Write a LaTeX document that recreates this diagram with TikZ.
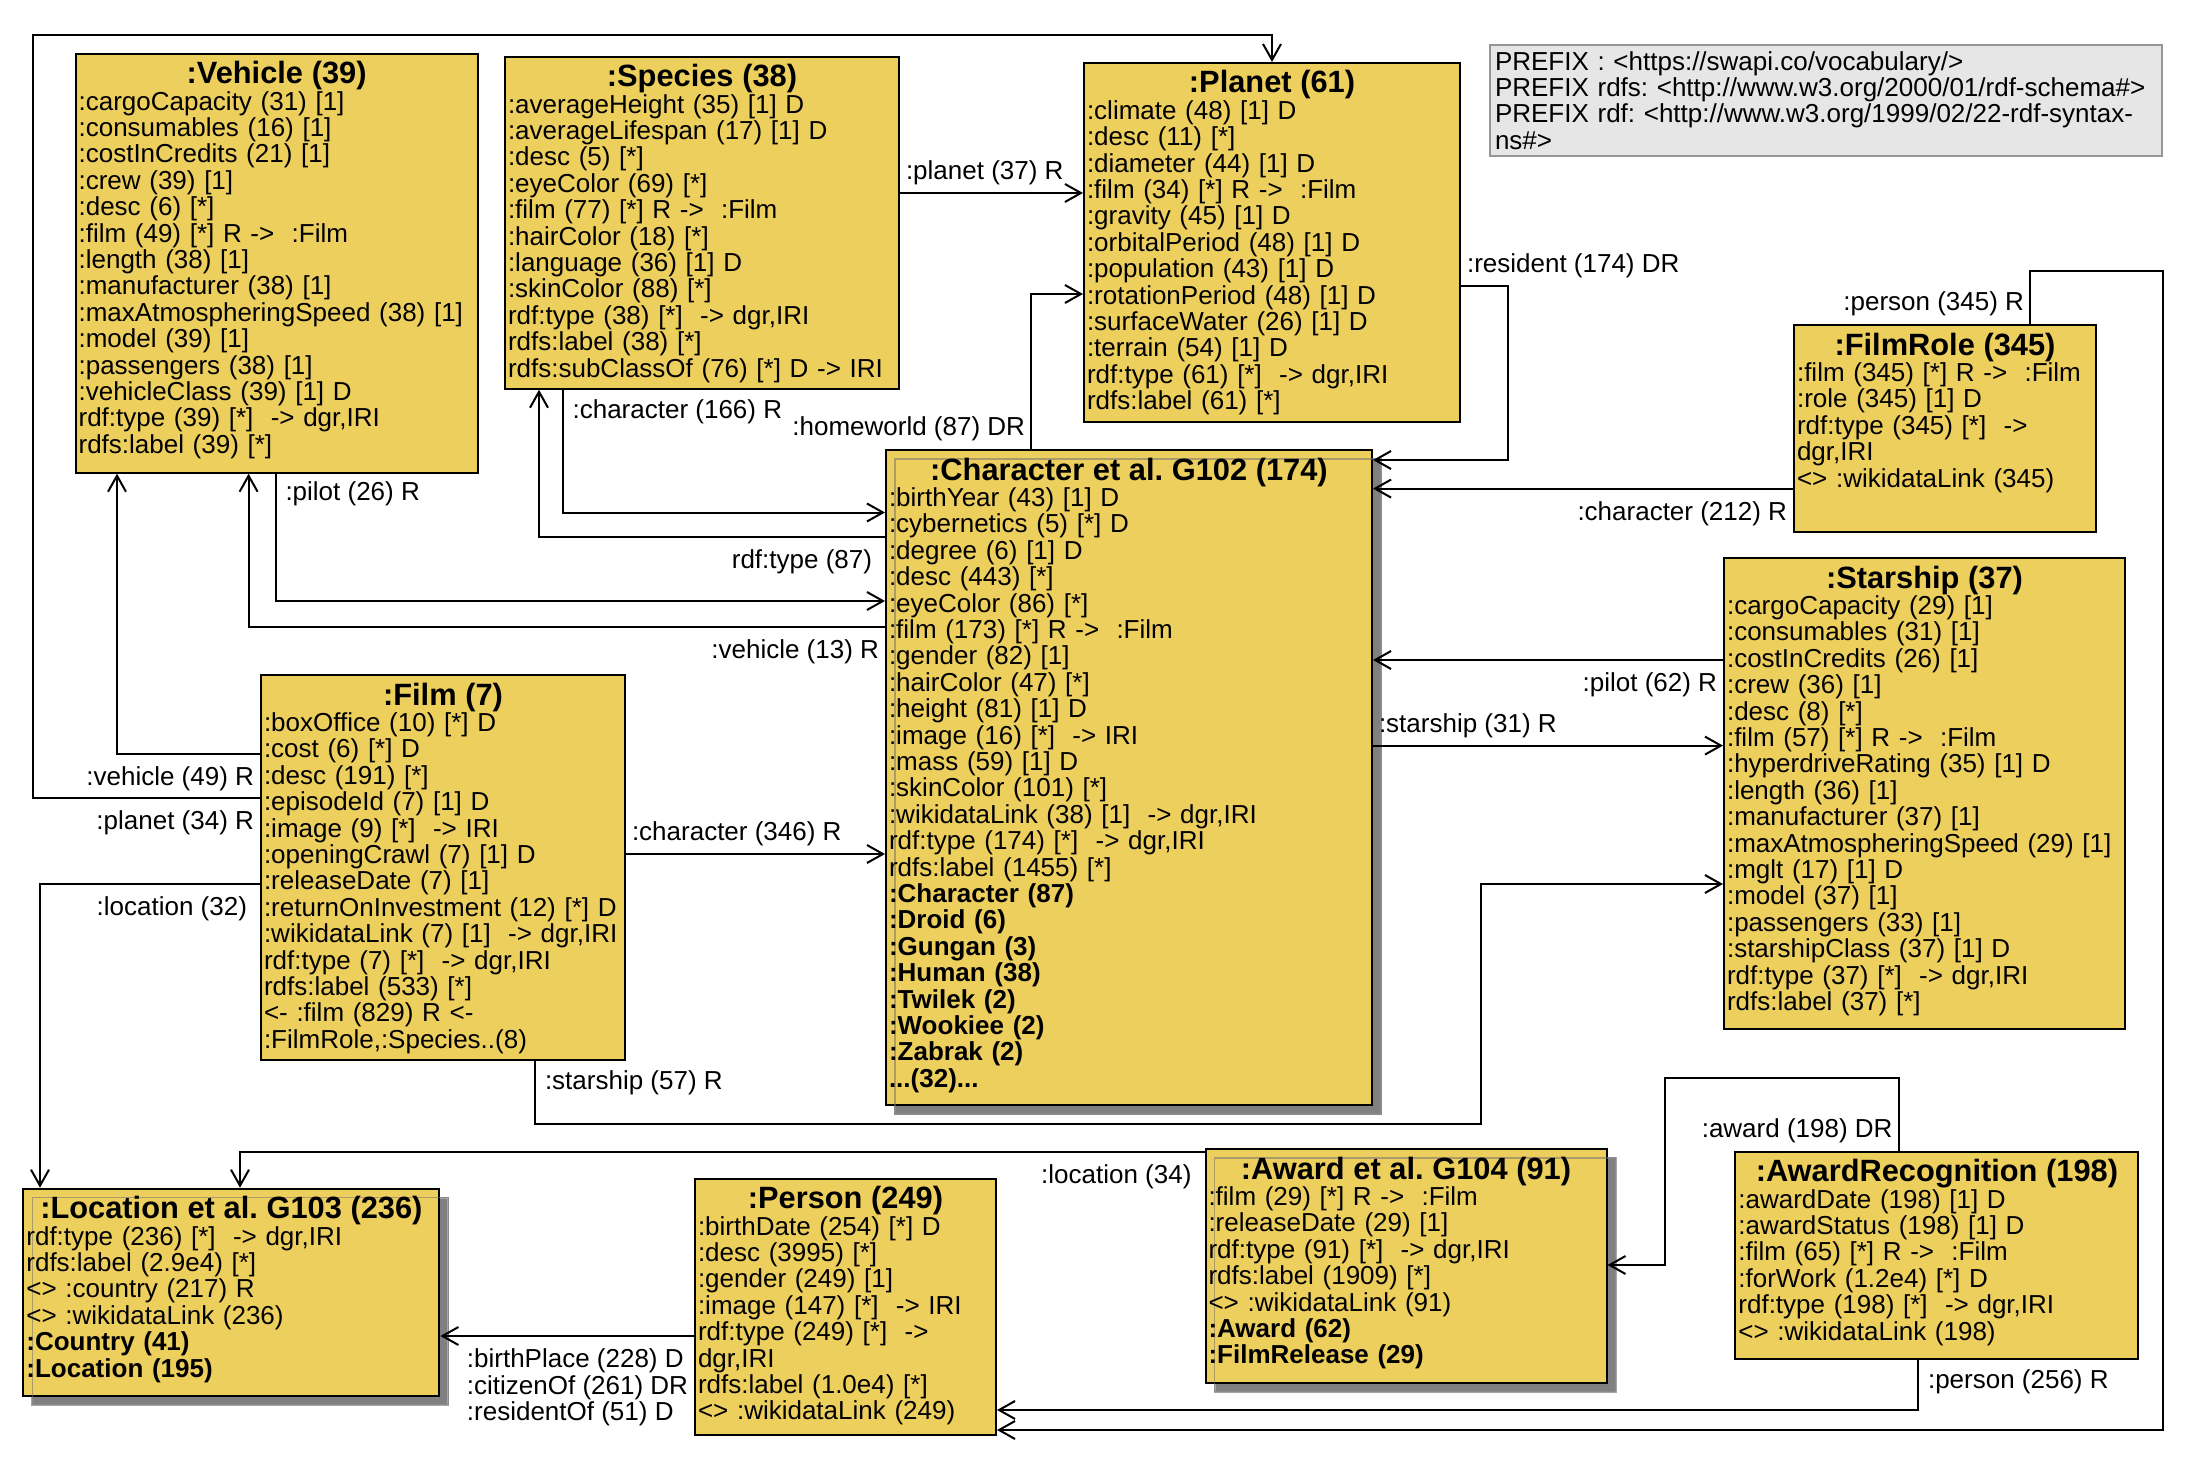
\documentclass[tikz,border=0pt]{standalone}
\usepackage{fontspec}
\setmainfont{Liberation Sans}
\usepackage{tikz}
\usetikzlibrary{arrows.meta}
\definecolor{clsyellow}{RGB}{237,207,94}
\definecolor{shadowgray}{RGB}{128,128,128}
\definecolor{prefixgray}{RGB}{230,230,230}
\definecolor{prefixline}{RGB}{150,150,150}
\newcommand{\clshead}[1]{\hfill{\fontsize{15.4}{15.4}\selectfont\bfseries #1}\hfill\null\\}
\frenchspacing

\begin{document}
\begin{tikzpicture}[x=0.5pt, y=-0.5pt,
		>={Straight Barb[length=8pt,width=9pt]}, %Pfeilspitzen
		cls/.style 2 args={draw, line width=1pt, fill=clsyellow, anchor=north west,
			inner xsep=1.5pt, inner ysep=2pt, align=left,
			text width=#1*0.5pt-3pt, text height=13pt, text depth=#2*0.5pt-17pt,
			font=\fontsize{13}{13.2}\selectfont},
		grp/.style={preaction={fill=shadowgray, draw=shadowgray!70, transform canvas={shift={(4.5pt,-4.5pt)}}},
			postaction={draw=black!55, opacity=0.55, line width=0.7pt, transform canvas={shift={(4.5pt,-4.5pt)}}}},
		link/.style={->, line width=1pt},
		lbl/.style={font=\fontsize{13}{13.2}\selectfont, inner xsep=2.5pt, inner ysep=6pt},
		lblup/.style={lbl, inner ysep=3.5pt}]
		\path[use as bounding box, fill=white] (0,0) rectangle (2204,1466);
		%Praefixe
		\node[draw=prefixline, fill=prefixgray, line width=1pt, anchor=north west, align=left,
			text width=331pt, minimum height=55.3pt, inner xsep=2.5pt,
			font=\fontsize{13}{13.1}\selectfont] (pfx) at (1489,44)
			{PREFIX : <https://swapi.co/vocabulary/>\\PREFIX rdfs: <http://www.w3.org/2000/01/rdf-schema\#>\\PREFIX rdf: <http://www.w3.org/1999/02/22-rdf-syntax-\\ns\#>};
		%Klassen
		\node[cls={402}{419}] (veh) at (74.6,52.7) {\clshead{:Vehicle (39)}
			:cargoCapacity (31) [1]\\
			:consumables (16) [1]\\
			:costInCredits (21) [1]\\
			:crew (39) [1]\\
			:desc (6) [*]\\
			:film (49) [*] R ->~~:Film\\
			:length (38) [1]\\
			:manufacturer (38) [1]\\
			:maxAtmospheringSpeed (38) [1]\\
			:model (39) [1]\\
			:passengers (38) [1]\\
			:vehicleClass (39) [1] D\\
			rdf:type (39) [*]~~-> dgr,IRI\\
			rdfs:label (39) [*]};
		\node[cls={394}{332}] (spc) at (504,55.7) {\clshead{:Species (38)}
			:averageHeight (35) [1] D\\
			:averageLifespan (17) [1] D\\
			:desc (5) [*]\\
			:eyeColor (69) [*]\\
			:film (77) [*] R ->~~:Film\\
			:hairColor (18) [*]\\
			:language (36) [1] D\\
			:skinColor (88) [*]\\
			rdf:type (38) [*]~~-> dgr,IRI\\
			rdfs:label (38) [*]\\
			rdfs:subClassOf (76) [*] D -> IRI};
		\node[cls={376}{359}] (plt) at (1083,62) {\clshead{:Planet (61)}
			:climate (48) [1] D\\
			:desc (11) [*]\\
			:diameter (44) [1] D\\
			:film (34) [*] R ->~~:Film\\
			:gravity (45) [1] D\\
			:orbitalPeriod (48) [1] D\\
			:population (43) [1] D\\
			:rotationPeriod (48) [1] D\\
			:surfaceWater (26) [1] D\\
			:terrain (54) [1] D\\
			rdf:type (61) [*]~~-> dgr,IRI\\
			rdfs:label (61) [*]};
		\node[cls={486}{655}, grp] (chr) at (885,449) {\clshead{:Character et al. G102 (174)}
			:birthYear (43) [1] D\\
			:cybernetics (5) [*] D\\
			:degree (6) [1] D\\
			:desc (443) [*]\\
			:eyeColor (86) [*]\\
			:film (173) [*] R ->~~:Film\\
			:gender (82) [1]\\
			:hairColor (47) [*]\\
			:height (81) [1] D\\
			:image (16) [*]~~-> IRI\\
			:mass (59) [1] D\\
			:skinColor (101) [*]\\
			:wikidataLink (38) [1]~~-> dgr,IRI\\
			rdf:type (174) [*]~~-> dgr,IRI\\
			rdfs:label (1455) [*]\\
			\textbf{:Character (87)}\\
			\textbf{:Droid (6)}\\
			\textbf{:Gungan (3)}\\
			\textbf{:Human (38)}\\
			\textbf{:Twilek (2)}\\
			\textbf{:Wookiee (2)}\\
			\textbf{:Zabrak (2)}\\
			\textbf{...(32)...}};
		\node[cls={302}{207}] (frl) at (1793,324) {\clshead{:FilmRole (345)}
			:film (345) [*] R ->~~:Film\\
			:role (345) [1] D\\
			rdf:type (345) [*]~~->\\
			dgr,IRI\\
			<> :wikidataLink (345)};
		\node[cls={401}{471}] (star) at (1723,557) {\clshead{:Starship (37)}
			:cargoCapacity (29) [1]\\
			:consumables (31) [1]\\
			:costInCredits (26) [1]\\
			:crew (36) [1]\\
			:desc (8) [*]\\
			:film (57) [*] R ->~~:Film\\
			:hyperdriveRating (35) [1] D\\
			:length (36) [1]\\
			:manufacturer (37) [1]\\
			:maxAtmospheringSpeed (29) [1]\\
			:mglt (17) [1] D\\
			:model (37) [1]\\
			:passengers (33) [1]\\
			:starshipClass (37) [1] D\\
			rdf:type (37) [*]~~-> dgr,IRI\\
			rdfs:label (37) [*]};
		\node[cls={364}{384.5}] (film) at (260,674) {\clshead{:Film (7)}
			:boxOffice (10) [*] D\\
			:cost (6) [*] D\\
			:desc (191) [*]\\
			:episodeId (7) [1] D\\
			:image (9) [*]~~-> IRI\\
			:openingCrawl (7) [1] D\\
			:releaseDate (7) [1]\\
			:returnOnInvestment (12) [*] D\\
			:wikidataLink (7) [1]~~-> dgr,IRI\\
			rdf:type (7) [*]~~-> dgr,IRI\\
			rdfs:label (533) [*]\\
			<- :film (829) R <-\\
			:FilmRole,:Species..(8)};
		\node[cls={416}{207}, grp] (loc) at (22.4,1187.7) {\clshead{:Location et al. G103 (236)}
			rdf:type (236) [*]~~-> dgr,IRI\\
			rdfs:label (2.9e4) [*]\\
			<> :country (217) R\\
			<> :wikidataLink (236)\\
			\textbf{:Country (41)}\\
			\textbf{:Location (195)}};
		\node[cls={301}{256.6}] (per) at (694,1177.7) {\clshead{:Person (249)}
			:birthDate (254) [*] D\\
			:desc (3995) [*]\\
			:gender (249) [1]\\
			:image (147) [*]~~-> IRI\\
			rdf:type (249) [*]~~->\\
			dgr,IRI\\
			rdfs:label (1.0e4) [*]\\
			<> :wikidataLink (249)};
		\node[cls={401}{233.7}, grp] (awd) at (1204.5,1148) {\clshead{:Award et al. G104 (91)}
			:film (29) [*] R ->~~:Film\\
			:releaseDate (29) [1]\\
			rdf:type (91) [*]~~-> dgr,IRI\\
			rdfs:label (1909) [*]\\
			<> :wikidataLink (91)\\
			\textbf{:Award (62)}\\
			\textbf{:FilmRelease (29)}};
		\node[cls={403}{207}] (arc) at (1734.4,1150.7) {\clshead{:AwardRecognition (198)}
			:awardDate (198) [1] D\\
			:awardStatus (198) [1] D\\
			:film (65) [*] R ->~~:Film\\
			:forWork (1.2e4) [*] D\\
			rdf:type (198) [*]~~-> dgr,IRI\\
			<> :wikidataLink (198)};
		%Kanten von :Film
		\draw[link] (film.west |- 0,754) node[lbl, below left] (lVehA) {:vehicle (49) R} -| (veh.south -| 117,0);
		\draw[link] (film.west |- 0,798) node[lbl, below left] (lPlnA) {:planet (34) R} -- (33,798) |- (1272,34.7) -- (plt.north -| 1272,0);
		\draw[link] (film.west |- 0,884) node[lbl, below left, xshift=-3.5pt] (lLocA) {:location (32)} -| (loc.north -| 40,0);
		\draw[link] (film.east |- 0,854) node[lblup, above right] (lChrA) {:character (346) R} -- (chr.west |- 0,854);
		\draw[link] (film.south -| 535,0) node[lbl, below right, xshift=2pt, yshift=1.5pt] (lStsA) {:starship (57) R} |- (1481,1124) |- (star.west |- 0,884);
		%Kanten von :Vehicle, :Species, :Planet
		\draw[link] (veh.south -| 275.5,0) node[lbl, below right, xshift=2pt, yshift=2.5pt] (lPilA) {:pilot (26) R} |- (chr.west |- 0,601);
		\draw[link] (spc.south -| 562.6,0) node[lbl, below right, xshift=2pt, yshift=1.5pt] (lChrB) {:character (166) R} |- (chr.west |- 0,512.5);
		\draw[link] (spc.east |- 0,193) node[lblup, above right] (lPlnB) {:planet (37) R} -- (plt.west |- 0,193);
		\draw[link] (plt.east |- 0,286) node[lblup, above right] (lRes) {:resident (174) DR} -| (1508,460) -- (chr.east |- 0,460);
		%Kanten von :Character
		\draw[link] (chr.west |- 0,627) node[lbl, below left] (lVehB) {:vehicle (13) R} -| (veh.south -| 248.6,0);
		\draw[link] (chr.west |- 0,537) node[lbl, below left, xshift=-3.5pt] (lType) {rdf:type (87)} -| (spc.south -| 539,0);
		\draw[link] (chr.north -| 1031,0) node[lblup, above left] (lHome) {:homeworld (87) DR} |- (plt.west |- 0,294);
		\draw[link] (chr.east |- 0,745.6) node[lblup, above right] (lStsB) {:starship (31) R} -- (star.west |- 0,745.6);
		%Kanten von :FilmRole, :Starship
		\draw[link] (frl.west |- 0,488.6) node[lbl, below left] (lChrC) {:character (212) R} -- (chr.east |- 0,488.6);
		\draw[link] (frl.north -| 2030,0) node[lblup, above left] (lPerA) {:person (345) R} |- (2163,270.7) |- (per.east |- 0,1430);
		\draw[link] (star.west |- 0,660) node[lbl, below left] (lPilB) {:pilot (62) R} -- (chr.east |- 0,660);
		%Kanten unten
		\draw[link] (awd.west |- 0,1152) node[lbl, below left, xshift=-3.5pt] (lLocB) {:location (34)} -| (loc.north -| 240,0);
		\draw[link] (arc.north -| 1898.5,0) node[lblup, above left] (lAwd) {:award (198) DR} |- (1665,1077.7) |- (awd.east |- 0,1265);
		\draw[link] (arc.south -| 1918,0) node[lbl, below right, xshift=2pt, yshift=1.5pt] (lPerB) {:person (256) R} |- (per.east |- 0,1410);
		\draw[link] (per.west |- 0,1336) node[lbl, below left, align=left] (lPlace) {:birthPlace (228) D\\:citizenOf (261) DR\\:residentOf (51) D} -- (loc.east |- 0,1336);
	\end{tikzpicture}
\end{document}
